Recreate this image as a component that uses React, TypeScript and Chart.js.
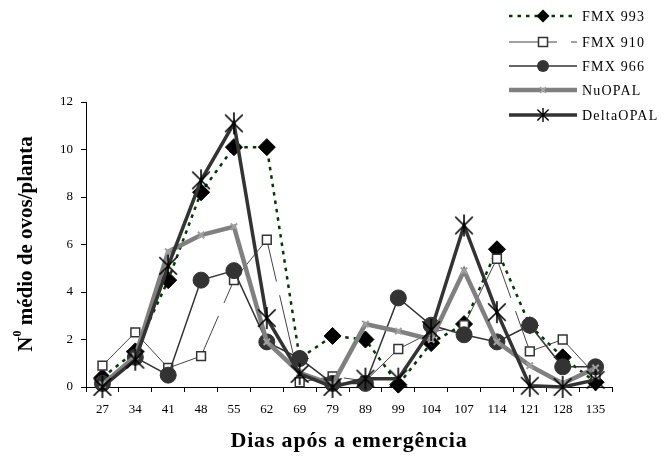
import React, { useEffect, useRef } from 'react';
import { Chart, registerables } from 'chart.js';
Chart.register(...registerables);

const categories = ['27', '34', '41', '48', '55', '62', '69', '79', '89', '99', '104', '107', '114', '121', '128', '135'];
const fmx993 = [0.4, 1.5, 4.5, 8.2, 10.1, 10.1, 1.2, 2.15, 2.0, 0.1, 1.85, 2.65, 5.8, 2.6, 1.25, 0.2];
const fmx910 = [0.9, 2.3, 0.8, 1.3, 4.5, 6.2, 0.2, 0.45, 0.25, 1.6, 2.3, 2.6, 5.4, 1.5, 2.0, 0.5];
const fmx966 = [0.15, 1.25, 0.5, 4.5, 4.9, 1.9, 1.2, 0.15, 0.15, 3.75, 2.6, 2.2, 1.9, 2.6, 0.85, 0.85];
const nuopal = [0.1, 1.3, 5.7, 6.4, 6.75, 1.9, 0.6, 0.1, 2.65, 2.35, 2.0, 4.9, 1.9, 0.9, 0.15, 0.8];
const deltaopal = [0.0, 1.15, 5.1, 8.7, 11.1, 2.9, 0.55, 0.0, 0.35, 0.35, 2.4, 6.8, 3.15, 0.05, 0.0, 0.3];
const seriesNames = ['FMX 993', 'FMX 910', 'FMX 966', 'NuOPAL', 'DeltaOPAL'];
const xTitle = 'Dias após a emergência';
const yTitleMain = 'N';
const yTitleSup = '0';
const yTitleRest = ' médio de ovos/planta';

const SERIF = '"Liberation Serif", "Times New Roman", serif';

function makeStar(size: number, lw: number) {
  const c = document.createElement('canvas');
  c.width = size; c.height = size;
  const s = c.getContext('2d')!;
  s.strokeStyle = '#000';
  s.lineWidth = lw;
  const m = size / 2;
  const r = size / 2 - 1;
  const d = r * 0.8;
  s.beginPath();
  s.moveTo(m - d, m - d); s.lineTo(m + d, m + d);
  s.moveTo(m + d, m - d); s.lineTo(m - d, m + d);
  s.moveTo(m, m - r); s.lineTo(m, m + r);
  s.stroke();
  return c;
}

export default function App() {
  const ref = useRef<HTMLCanvasElement>(null);
  useEffect(() => {
    document.body.style.margin = '0';
    const star = makeStar(24, 1.6);
    const starSmall = makeStar(16, 1.4);

    const overlay = {
      id: 'overlay',
      afterDraw(chart: any) {
        const ctx = chart.ctx as CanvasRenderingContext2D;
        ctx.save();
        // legend
        const ys = [16, 42, 66, 90, 115];
        const x0 = 509, x1 = 577, xm = 543, tx = 582;
        ctx.font = `14px ${SERIF}`;
        (ctx as any).letterSpacing = '1.2px';
        ctx.textBaseline = 'middle';
        ctx.textAlign = 'left';
        ys.forEach((y, i) => {
          const ds = chart.data.datasets[i];
          ctx.save();
          ctx.strokeStyle = ds.borderColor;
          ctx.lineWidth = ds.borderWidth;
          ctx.setLineDash(i === 0 ? ds.borderDash : i === 1 ? [48, 14] : []);
          ctx.beginPath(); ctx.moveTo(x0, y); ctx.lineTo(x1, y); ctx.stroke();
          ctx.restore();
          ctx.save();
          if (i === 0) {
            ctx.fillStyle = '#000';
            ctx.beginPath();
            ctx.moveTo(xm, y - 6.5); ctx.lineTo(xm + 6.5, y); ctx.lineTo(xm, y + 6.5); ctx.lineTo(xm - 6.5, y); ctx.closePath();
            ctx.fill();
          } else if (i === 1) {
            ctx.fillStyle = '#fff'; ctx.strokeStyle = '#333'; ctx.lineWidth = 1.5;
            ctx.fillRect(xm - 4.5, y - 4.5, 9, 9);
            ctx.strokeRect(xm - 4.5, y - 4.5, 9, 9);
          } else if (i === 2) {
            ctx.fillStyle = '#333';
            ctx.beginPath(); ctx.arc(xm, y, 6, 0, Math.PI * 2); ctx.fill();
          } else if (i === 3) {
            ctx.strokeStyle = '#aaa'; ctx.lineWidth = 1.5;
            ctx.beginPath();
            ctx.moveTo(xm - 3, y - 3); ctx.lineTo(xm + 3, y + 3);
            ctx.moveTo(xm + 3, y - 3); ctx.lineTo(xm - 3, y + 3);
            ctx.stroke();
          } else {
            ctx.drawImage(starSmall, xm - 8, y - 8);
          }
          ctx.restore();
          ctx.fillStyle = '#000';
          ctx.fillText(seriesNames[i], tx, y + 1);
        });
        // x title
        ctx.font = `bold 22px ${SERIF}`;
        (ctx as any).letterSpacing = '0.8px';
        ctx.textAlign = 'center';
        ctx.fillStyle = '#000';
        ctx.fillText(xTitle, 349, 441);
        // y title
        ctx.translate(25, 244);
        ctx.rotate(-Math.PI / 2);
        ctx.font = `bold 21px ${SERIF}`;
        (ctx as any).letterSpacing = '0px';
        const wN = ctx.measureText(yTitleMain).width;
        const wR = ctx.measureText(yTitleRest).width;
        ctx.font = `bold 12px ${SERIF}`;
        const wS = ctx.measureText(yTitleSup).width;
        const total = wN + wS + wR;
        let cx = -total / 2;
        ctx.textAlign = 'left';
        ctx.textBaseline = 'alphabetic';
        ctx.font = `bold 21px ${SERIF}`;
        ctx.fillText(yTitleMain, cx, 7);
        cx += wN;
        ctx.font = `bold 12px ${SERIF}`;
        ctx.fillText(yTitleSup, cx, -4);
        cx += wS;
        ctx.font = `bold 21px ${SERIF}`;
        ctx.fillText(yTitleRest, cx, 7);
        ctx.restore();
      },
    };

    const chart = new Chart(ref.current!, {
      type: 'line',
      data: {
        labels: categories,
        datasets: [
          {
            label: seriesNames[0], data: fmx993, order: 5, clip: false as any,
            borderColor: '#003a00', borderWidth: 2.5, borderDash: [3.5, 5],
            pointStyle: 'rectRot', pointRadius: 8.5, pointBackgroundColor: '#000', pointBorderColor: '#000', pointBorderWidth: 1,
            tension: 0,
          },
          {
            label: seriesNames[1], data: fmx910, order: 4, clip: false as any,
            borderColor: '#444', borderWidth: 1, borderDash: [120, 14], borderDashOffset: 80,
            pointStyle: 'rect', pointRadius: 6.2, pointBackgroundColor: '#fff', pointBorderColor: '#333', pointBorderWidth: 1.5,
            tension: 0,
          },
          {
            label: seriesNames[2], data: fmx966, order: 3, clip: false as any,
            borderColor: '#333', borderWidth: 1.5,
            pointStyle: 'circle', pointRadius: 8, pointBackgroundColor: '#333', pointBorderColor: '#333', pointBorderWidth: 1,
            tension: 0,
          },
          {
            label: seriesNames[3], data: nuopal, order: 2, clip: false as any,
            borderColor: '#808080', borderWidth: 4.5,
            pointStyle: 'crossRot', pointRadius: 4.5, pointBorderColor: '#a0a0a0', pointBorderWidth: 2,
            tension: 0,
          },
          {
            label: seriesNames[4], data: deltaopal, order: 1, clip: false as any,
            borderColor: '#333', borderWidth: 3.5,
            pointStyle: star as any, pointRadius: 12,
            tension: 0,
          },
        ],
      },
      options: {
        responsive: false,
        animation: false,
        devicePixelRatio: 1,
        layout: { padding: { top: 102, right: 54, left: 0, bottom: 0 } },
        plugins: { legend: { display: false }, tooltip: { enabled: false } },
        scales: {
          x: {
            type: 'category',
            offset: true,
            grid: { offset: true, drawOnChartArea: false, drawTicks: true, tickLength: 5, color: '#000', lineWidth: 1 },
            border: { display: true, color: '#000', width: 1 },
            ticks: { color: '#000', font: { family: SERIF, size: 13 }, padding: 10, maxRotation: 0, autoSkip: false },
            afterFit: (s: any) => { s.height = 73; },
          },
          y: {
            min: 0, max: 12,
            ticks: { stepSize: 2, color: '#000', font: { family: SERIF, size: 13 }, padding: 8 },
            grid: { drawOnChartArea: false, drawTicks: true, tickLength: 5, color: '#000', lineWidth: 1 },
            border: { display: true, color: '#000', width: 1 },
            afterFit: (s: any) => { s.width = 86; },
          },
        },
      },
      plugins: [overlay],
    });
    return () => chart.destroy();
  }, []);
  return <canvas ref={ref} width={666} height={460} style={{ display: 'block' }} />;
}
